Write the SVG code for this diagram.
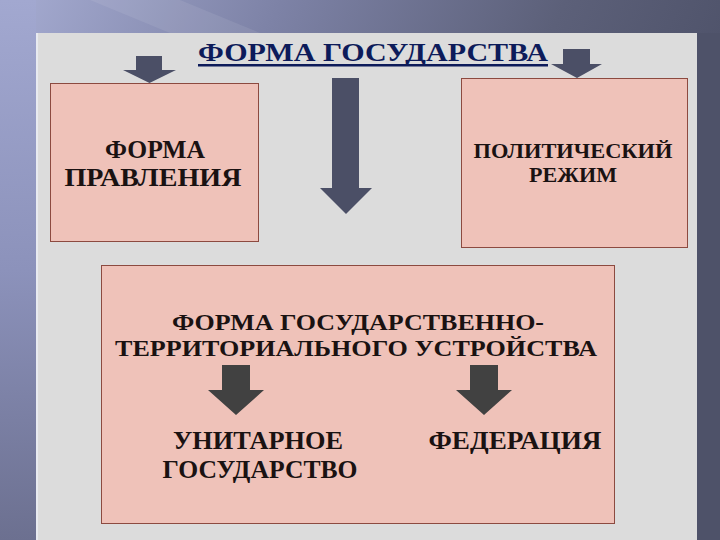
<svg xmlns="http://www.w3.org/2000/svg" width="720" height="540" viewBox="0 0 720 540">
  <defs>
    <linearGradient id="bg" x1="0" y1="0" x2="1" y2="0.35">
      <stop offset="0" stop-color="#a6acd2"/>
      <stop offset="0.35" stop-color="#7d82a6"/>
      <stop offset="0.7" stop-color="#5c6079"/>
      <stop offset="1" stop-color="#4b4f66"/>
    </linearGradient>
    <linearGradient id="leftStrip" x1="0" y1="0" x2="0" y2="1">
      <stop offset="0" stop-color="#a2a8d0"/>
      <stop offset="0.5" stop-color="#8c92bb"/>
      <stop offset="1" stop-color="#6c7090"/>
    </linearGradient>
    <style>
      .panel { fill: #dcdcdc; }
      .box { fill: #efc2b9; stroke: #8c4a40; stroke-width: 1; }
      text { font-family: 'Liberation Serif', 'DejaVu Serif', 'Times New Roman', serif; font-weight: bold; }
      .title { font-size: 26px; fill: #0d1b5a; }
      .lbl { fill: #1a1212; text-anchor: middle; }
      .arrowTop { fill: #4b4f66; }
      .arrowIn { fill: #414141; }
    </style>
  </defs>

  <!-- background -->
  <rect x="0" y="0" width="720" height="540" fill="url(#bg)"/>
  <rect x="0" y="0" width="36" height="540" fill="url(#leftStrip)"/>
  <polygon points="90,0 180,0 260,33 170,33" fill="#ffffff" opacity="0.08"/>
  <rect x="697" y="33" width="23" height="507" fill="#4e5269"/>
  <rect x="36" y="33" width="661" height="507" class="panel"/>
  <rect x="36" y="33" width="2" height="507" fill="#e8eaf0"/>

  <!-- title -->
  <g id="title">
    <text x="198" y="61" class="title" textLength="350" lengthAdjust="spacingAndGlyphs">ФОРМА ГОСУДАРСТВА</text>
    <rect x="198" y="64" width="350" height="2.5" fill="#0d1b5a"/>
  </g>

  <!-- left box -->
  <g id="forma-pravleniya">
    <rect x="50.5" y="83.5" width="208" height="158" class="box"/>
    <text x="155" y="158" class="lbl" font-size="26" textLength="100" lengthAdjust="spacingAndGlyphs">ФОРМА</text>
    <text x="153" y="186" class="lbl" font-size="26" textLength="177" lengthAdjust="spacingAndGlyphs">ПРАВЛЕНИЯ</text>
  </g>

  <!-- right box -->
  <g id="politicheskiy-rezhim">
    <rect x="461.5" y="78.5" width="226" height="169" class="box"/>
    <text x="573" y="158" class="lbl" font-size="22" textLength="199" lengthAdjust="spacingAndGlyphs">ПОЛИТИЧЕСКИЙ</text>
    <text x="573" y="182" class="lbl" font-size="22" textLength="88" lengthAdjust="spacingAndGlyphs">РЕЖИМ</text>
  </g>

  <!-- bottom box -->
  <g id="forma-ustroystva">
    <rect x="101.5" y="265.5" width="513" height="258" class="box"/>
    <text x="358" y="330" class="lbl" font-size="24" textLength="372" lengthAdjust="spacingAndGlyphs">ФОРМА ГОСУДАРСТВЕННО-</text>
    <text x="356" y="356" class="lbl" font-size="24" textLength="482" lengthAdjust="spacingAndGlyphs">ТЕРРИТОРИАЛЬНОГО УСТРОЙСТВА</text>
  </g>

  <g id="unitarnoe">
    <text x="258" y="449" class="lbl" font-size="26" textLength="170" lengthAdjust="spacingAndGlyphs">УНИТАРНОЕ</text>
    <text x="260" y="478" class="lbl" font-size="26" textLength="195" lengthAdjust="spacingAndGlyphs">ГОСУДАРСТВО</text>
  </g>

  <g id="federatsiya">
    <text x="515" y="449" class="lbl" font-size="26" textLength="173" lengthAdjust="spacingAndGlyphs">ФЕДЕРАЦИЯ</text>
  </g>

  <!-- connectors -->
  <g id="connectors">
    <polygon class="arrowTop" points="136,56 162,56 162,70 176,70 149.5,83 123,70 136,70"/>
    <polygon class="arrowTop" points="332,78 359,78 359,188 372,188 346,214 320,188 332,188"/>
    <polygon class="arrowTop" points="563,49 590,49 590,64 602,64 577,78 551,64 563,64"/>
    <polygon class="arrowIn" points="222,365 250,365 250,390 264,390 236,415 208,390 222,390"/>
    <polygon class="arrowIn" points="470,365 498,365 498,390 512,390 484,415 456,390 470,390"/>
  </g>
</svg>
